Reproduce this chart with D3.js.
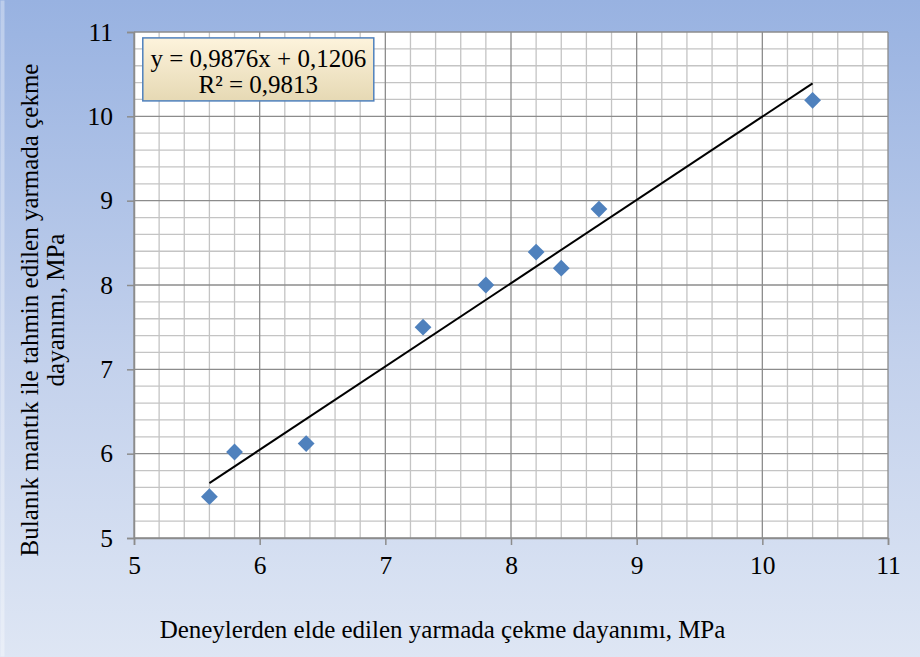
<!DOCTYPE html>
<html>
<head>
<meta charset="utf-8">
<script src="https://cdn.jsdelivr.net/npm/d3@7"></script>
<style>
  html, body { margin: 0; padding: 0; }
  svg { display: block; font-family: "Liberation Serif", "Times New Roman", serif; }
</style>
</head>
<body>
<svg id="chart" width="920" height="657"></svg>
<script>
// measured (x) vs fuzzy-logic predicted (y) splitting tensile strength, MPa
const measured  = [5.6, 5.8, 6.37, 7.3, 7.8, 8.2, 8.4, 8.7, 10.4];
const predicted = [5.49, 6.02, 6.12, 7.5, 8.0, 8.39, 8.2, 8.9, 10.19];
const xTicks = [5, 6, 7, 8, 9, 10, 11];
const yTicks = [5, 6, 7, 8, 9, 10, 11];
const slope = 0.9876, intercept = 0.1206;
const eqLines = ['y = 0,9876x + 0,1206', 'R² = 0,9813'];
const xTitle = 'Deneylerden elde edilen yarmada çekme dayanımı, MPa';
const yTitle = ['Bulanık mantık ile tahmin edilen yarmada çekme', 'dayanımı, MPa'];

const svg = d3.select('#chart');
const width = 920, height = 657;
const margin = { top: 32, right: 32, bottom: 119, left: 134 };
const W = width - margin.left - margin.right;
const H = height - margin.top - margin.bottom;

// background gradient
const defs = svg.append('defs');
const bg = defs.append('linearGradient').attr('id', 'bg')
  .attr('x1', 0).attr('y1', 0).attr('x2', 0).attr('y2', 1);
bg.append('stop').attr('offset', '0%').attr('stop-color', '#98b2e1');
bg.append('stop').attr('offset', '55%').attr('stop-color', '#c3d1ec');
bg.append('stop').attr('offset', '100%').attr('stop-color', '#dee6f4');

const boxGrad = defs.append('linearGradient').attr('id', 'box')
  .attr('x1', 0).attr('y1', 0).attr('x2', 0).attr('y2', 1);
boxGrad.append('stop').attr('offset', '0%').attr('stop-color', '#fdf3dc');
boxGrad.append('stop').attr('offset', '100%').attr('stop-color', '#e6d9b4');

svg.append('rect').attr('width', width).attr('height', height).attr('fill', 'url(#bg)');
svg.append('rect').attr('x', 0.5).attr('y', 0.5).attr('width', 4).attr('height', height - 1)
  .attr('fill', '#ffffff').attr('opacity', 0.35);

const x = d3.scaleLinear().domain([5, 11]).range([0, W]);
const y = d3.scaleLinear().domain([5, 11]).range([H, 0]);

const g = svg.append('g').attr('transform', `translate(${margin.left},${margin.top})`);

g.append('rect').attr('width', W).attr('height', H).attr('fill', '#ffffff');

// minor grid every 0.2
const minor = d3.range(5, 11.001, 0.2).filter(v => Math.abs(v - Math.round(v)) > 1e-6);
g.append('g').selectAll('line').data(minor).enter().append('line')
  .attr('x1', d => x(d)).attr('x2', d => x(d)).attr('y1', 0).attr('y2', H)
  .attr('stroke', '#c4c4c4').attr('stroke-width', 1.3);
g.append('g').selectAll('line').data(minor).enter().append('line')
  .attr('y1', d => y(d)).attr('y2', d => y(d)).attr('x1', 0).attr('x2', W)
  .attr('stroke', '#c4c4c4').attr('stroke-width', 1.3);

// major grid
g.append('g').selectAll('line').data(xTicks).enter().append('line')
  .attr('x1', d => x(d)).attr('x2', d => x(d)).attr('y1', 0).attr('y2', H)
  .attr('stroke', '#8c8c8c').attr('stroke-width', 1.3);
g.append('g').selectAll('line').data(yTicks).enter().append('line')
  .attr('y1', d => y(d)).attr('y2', d => y(d)).attr('x1', 0).attr('x2', W)
  .attr('stroke', '#8c8c8c').attr('stroke-width', 1.3);

// axes
const xAxis = g.append('g').attr('transform', `translate(0,${H})`)
  .call(d3.axisBottom(x).tickValues(xTicks).tickSize(7).tickPadding(11).tickFormat(d3.format('d')));
const yAxis = g.append('g')
  .call(d3.axisLeft(y).tickValues(yTicks).tickSize(7).tickPadding(14).tickFormat(d3.format('d')));
[xAxis, yAxis].forEach(a => {
  a.select('.domain').attr('stroke', '#8c8c8c').attr('stroke-width', 1.5);
  a.selectAll('.tick line').attr('stroke', '#8c8c8c').attr('stroke-width', 1.5);
  a.selectAll('.tick text').attr('font-size', 25.5).attr('fill', '#000')
    .attr('font-family', '"Liberation Serif", serif');
});

// trend line
g.append('line')
  .attr('x1', x(d3.min(measured))).attr('y1', y(slope * d3.min(measured) + intercept))
  .attr('x2', x(d3.max(measured))).attr('y2', y(slope * d3.max(measured) + intercept))
  .attr('stroke', '#000').attr('stroke-width', 2);

// points
const pts = measured.map((m, i) => ({ m, p: predicted[i] }));
g.selectAll('.pt').data(pts).enter().append('path')
  .attr('class', 'pt')
  .attr('transform', d => `translate(${x(d.m)},${y(d.p)})`)
  .attr('d', d3.symbol(d3.symbolDiamond2, 180)())
  .attr('fill', '#4f81bd');

// equation box
const box = g.append('g').attr('transform', `translate(${x(5.07)},${y(10.93)})`);
box.append('rect').attr('width', 231).attr('height', 63)
  .attr('fill', 'url(#box)').attr('stroke', '#4f81bd').attr('stroke-width', 1.5);
box.selectAll('text').data(eqLines).enter().append('text')
  .attr('x', 115.5).attr('y', (d, i) => 29 + i * 26)
  .attr('text-anchor', 'middle').attr('font-size', 25).attr('fill', '#000')
  .text(d => d);

// axis titles
svg.append('text')
  .attr('x', 442.5).attr('y', 638)
  .attr('text-anchor', 'middle').attr('font-size', 25).attr('fill', '#000')
  .text(xTitle);

svg.append('g').attr('transform', `translate(0,310) rotate(-90)`)
  .selectAll('text').data(yTitle).enter().append('text')
  .attr('x', 0).attr('y', (d, i) => 38 + i * 26)
  .attr('text-anchor', 'middle').attr('font-size', 25).attr('fill', '#000')
  .text(d => d);
</script>
</body>
</html>
